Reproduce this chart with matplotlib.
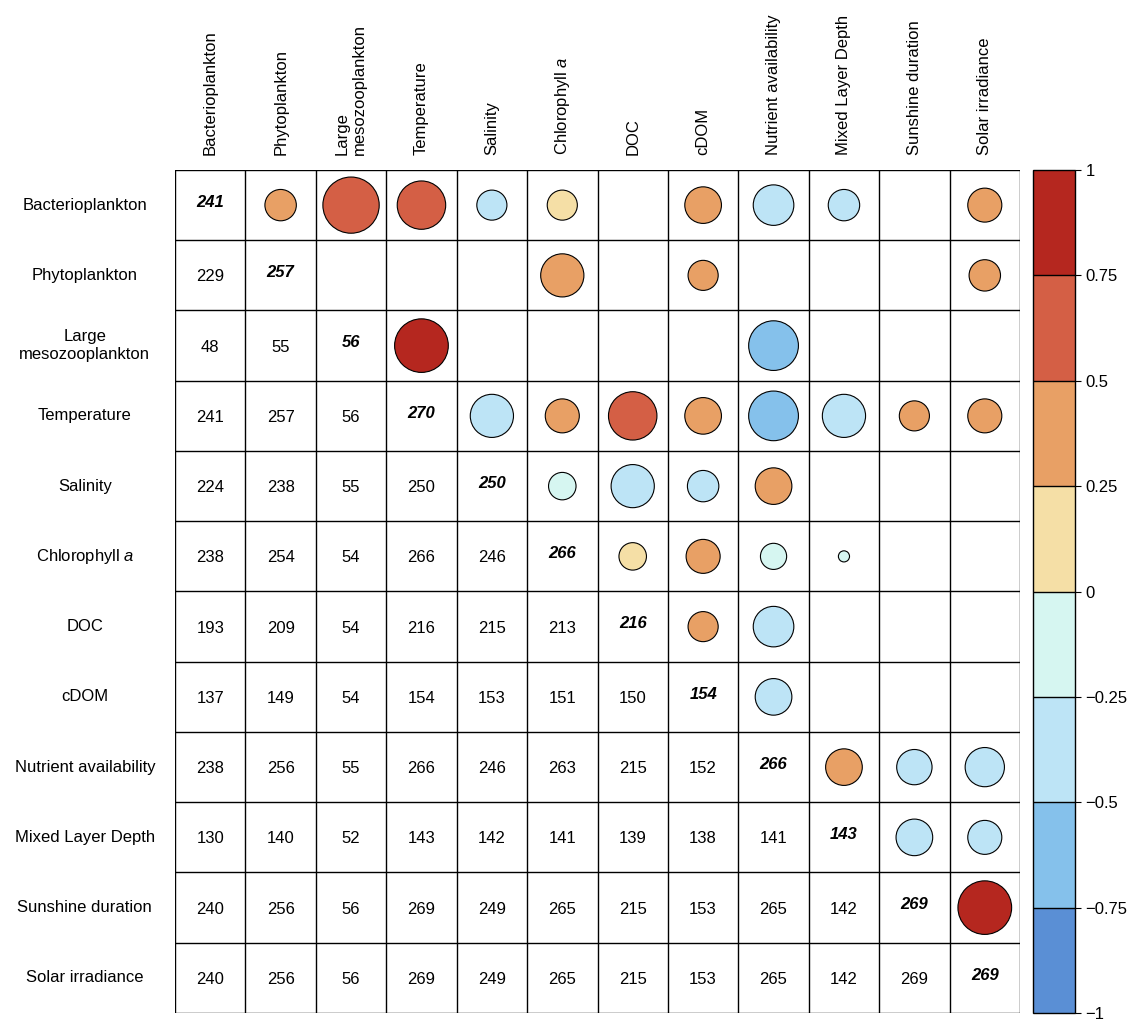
import matplotlib.pyplot as plt
import matplotlib as mpl
from matplotlib.patches import Circle
import numpy as np

plt.rcParams['font.family'] = 'Liberation Sans'
plt.rcParams['mathtext.fontset'] = 'custom'
plt.rcParams['mathtext.it'] = 'Liberation Sans:italic'

# --- Data ---
VARS = ["Bacterioplankton", "Phytoplankton", "Large\nmesozooplankton", "Temperature",
        "Salinity", "Chlorophyll $a$", "DOC", "cDOM", "Nutrient availability",
        "Mixed Layer Depth", "Sunshine duration", "Solar irradiance"]

# lower triangle incl. diagonal: sample sizes (row by row)
N_LOWER = [
    [241],
    [229, 257],
    [48, 55, 56],
    [241, 257, 56, 270],
    [224, 238, 55, 250, 250],
    [238, 254, 54, 266, 246, 266],
    [193, 209, 54, 216, 215, 213, 216],
    [137, 149, 54, 154, 153, 151, 150, 154],
    [238, 256, 55, 266, 246, 263, 215, 152, 266],
    [130, 140, 52, 143, 142, 141, 139, 138, 141, 143],
    [240, 256, 56, 269, 249, 265, 215, 153, 265, 142, 269],
    [240, 256, 56, 269, 249, 265, 215, 153, 265, 142, 269, 269],
]

# upper triangle circles: (row, col, correlation, circle size as fraction of cell)
CIRCLES = [
    (0, 1, 0.35, 0.24), (0, 2, 0.6, 0.43), (0, 3, 0.6, 0.37), (0, 4, -0.3, 0.23),
    (0, 5, 0.15, 0.23), (0, 7, 0.35, 0.28), (0, 8, -0.4, 0.31), (0, 9, -0.3, 0.24),
    (0, 11, 0.35, 0.26),
    (1, 5, 0.4, 0.33), (1, 7, 0.35, 0.23), (1, 11, 0.35, 0.24),
    (2, 3, 0.8, 0.41), (2, 8, -0.6, 0.38),
    (3, 4, -0.4, 0.33), (3, 5, 0.35, 0.26), (3, 6, 0.6, 0.37), (3, 7, 0.4, 0.28),
    (3, 8, -0.6, 0.38), (3, 9, -0.4, 0.33), (3, 10, 0.3, 0.23), (3, 11, 0.35, 0.26),
    (4, 5, -0.2, 0.21), (4, 6, -0.4, 0.33), (4, 7, -0.3, 0.24), (4, 8, 0.35, 0.28),
    (5, 6, 0.15, 0.21), (5, 7, 0.35, 0.26), (5, 8, -0.2, 0.2), (5, 9, -0.1, 0.085),
    (6, 7, 0.3, 0.23), (6, 8, -0.35, 0.31),
    (7, 8, -0.35, 0.28),
    (8, 9, 0.35, 0.28), (8, 10, -0.3, 0.27), (8, 11, -0.35, 0.3),
    (9, 10, -0.35, 0.28), (9, 11, -0.3, 0.26),
    (10, 11, 0.8, 0.41),
]

COLORS = ["#5A8FD5", "#85C1EB", "#BDE4F6", "#D6F6F1",
          "#F5DFA6", "#E8A065", "#D45F45", "#B5271F"]
BOUNDS = np.linspace(-1, 1, 9)

cmap = mpl.colors.ListedColormap(COLORS)
norm = mpl.colors.BoundaryNorm(BOUNDS, cmap.N)

n = len(VARS)
fig = plt.figure(figsize=(11.44, 10.21), dpi=100)
ax = fig.add_axes([175/1144, 1 - 1013/1021, 845/1144, 843/1021])
ax.set_xlim(0, n)
ax.set_ylim(n, 0)
ax.axis('off')

for k in range(n + 1):
    ax.plot([k, k], [0, n], color='black', lw=1)
    ax.plot([0, n], [k, k], color='black', lw=1)

for i, row in enumerate(N_LOWER):
    for j, v in enumerate(row):
        if i == j:
            ax.text(j + 0.5, i + 0.46, str(v), ha='center', va='center',
                    fontsize=12, fontweight='bold', style='italic')
        else:
            ax.text(j + 0.5, i + 0.52, str(v), ha='center', va='center', fontsize=12)

for i, j, r, s in CIRCLES:
    ax.add_patch(Circle((j + 0.5, i + 0.5), s * 0.93, facecolor=cmap(norm(r)),
                        edgecolor='black', lw=0.8))

for k, name in enumerate(VARS):
    ax.text(-1.28, k + 0.5, name, ha='center', va='center', fontsize=12, clip_on=False)
    ax.text(k + 0.5, -0.22, name, ha='center', va='bottom', rotation=90,
            fontsize=12, clip_on=False, multialignment='left')

cax = fig.add_axes([1033/1144, 1 - 1013/1021, 42/1144, 843/1021])
cb = mpl.colorbar.ColorbarBase(cax, cmap=cmap, norm=norm, boundaries=BOUNDS,
                               ticks=BOUNDS, drawedges=True)
cb.set_ticklabels(["\u22121", "\u22120.75", "\u22120.5", "\u22120.25", "0",
                   "0.25", "0.5", "0.75", "1"])
cb.ax.tick_params(labelsize=12, length=4)
cb.outline.set_linewidth(1)
cb.dividers.set_linewidth(1)

fig.savefig("out.png", dpi=100)
